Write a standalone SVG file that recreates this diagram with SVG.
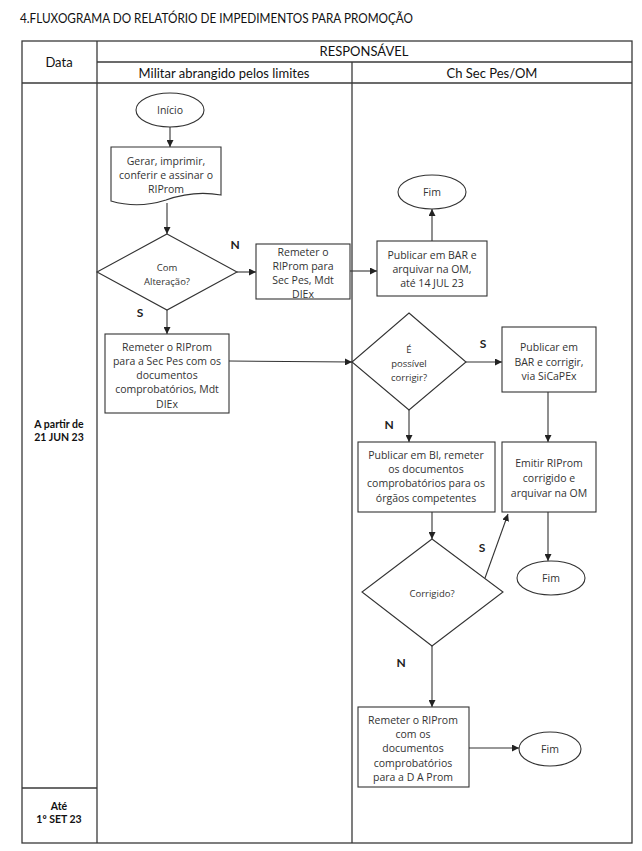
<svg xmlns="http://www.w3.org/2000/svg" width="642" height="851" viewBox="0 0 642 851">
<defs>
<style>
.tb{fill:none;stroke:#3a3a3a;stroke-width:1.3}
.nd{fill:#fff;stroke:#333;stroke-width:1.1}
.cn{fill:none;stroke:#333;stroke-width:1.1}
.t{font-family:"Open Sans","Liberation Sans",sans-serif;font-size:10.5px;fill:#333;text-anchor:middle;dominant-baseline:central}
.ts{font-family:"Open Sans","Liberation Sans",sans-serif;font-size:9.5px;fill:#333;text-anchor:middle;dominant-baseline:central}
.h{font-family:Lato,"Liberation Sans",sans-serif;font-size:13px;fill:#111;text-anchor:middle;dominant-baseline:central}
.d{font-family:Lato,"Liberation Sans",sans-serif;font-size:10.5px;font-weight:bold;fill:#111;text-anchor:middle;dominant-baseline:central}
.l{font-family:Lato,"Liberation Sans",sans-serif;font-size:12px;font-weight:bold;fill:#222;text-anchor:middle;dominant-baseline:central}
</style>
<marker id="ah" viewBox="0 0 10 10" refX="10" refY="5" markerWidth="7" markerHeight="7" markerUnits="userSpaceOnUse" orient="auto">
<path d="M0,0 L10,5 L0,10 Z" fill="#222"/>
</marker>
</defs>
<rect width="642" height="851" fill="#fff"/>
<text x="20" y="18" font-family="Lato,'Liberation Sans',sans-serif" font-size="13.5" fill="#111" dominant-baseline="central" textLength="393" lengthAdjust="spacingAndGlyphs">4.FLUXOGRAMA DO RELATÓRIO DE IMPEDIMENTOS PARA PROMOÇÃO</text>
<g id="table">
<rect class="tb" x="22" y="41" width="610" height="802"/>
<line class="tb" x1="97" y1="41" x2="97" y2="843"/>
<line class="tb" x1="97" y1="62" x2="632" y2="62"/>
<line class="tb" x1="22" y1="83" x2="632" y2="83"/>
<line class="tb" x1="352" y1="62" x2="352" y2="843"/>
<line class="tb" x1="22" y1="788" x2="97" y2="788"/>
<text class="h" x="59" y="62">Data</text>
<text class="h" x="364" y="51">RESPONSÁVEL</text>
<text class="h" x="224" y="73">Militar abrangido pelos limites</text>
<text class="h" x="492" y="73">Ch Sec Pes/OM</text>
<text class="d" x="59" y="424">A partir de</text>
<text class="d" x="59" y="437">21 JUN 23</text>
<text class="d" x="59" y="806">Até</text>
<text class="d" x="59" y="819">1º SET 23</text>
</g>
<g id="connectors">
<line class="cn" x1="170" y1="127" x2="170" y2="147" marker-end="url(#ah)"/>
<line class="cn" x1="167" y1="203" x2="167" y2="234" marker-end="url(#ah)"/>
<line class="cn" x1="237" y1="272" x2="256" y2="272" marker-end="url(#ah)"/>
<line class="cn" x1="167" y1="310" x2="167" y2="334" marker-end="url(#ah)"/>
<line class="cn" x1="350" y1="271" x2="377" y2="271" marker-end="url(#ah)"/>
<line class="cn" x1="432" y1="241" x2="432" y2="209" marker-end="url(#ah)"/>
<line class="cn" x1="229" y1="361" x2="352" y2="362" marker-end="url(#ah)"/>
<line class="cn" x1="466" y1="362" x2="502" y2="362" marker-end="url(#ah)"/>
<line class="cn" x1="409" y1="410" x2="409" y2="442" marker-end="url(#ah)"/>
<line class="cn" x1="548" y1="392" x2="548" y2="442" marker-end="url(#ah)"/>
<line class="cn" x1="432" y1="512" x2="432" y2="539" marker-end="url(#ah)"/>
<line class="cn" x1="548" y1="512" x2="548" y2="561" marker-end="url(#ah)"/>
<line class="cn" x1="485" y1="578" x2="508" y2="514" marker-end="url(#ah)"/>
<line class="cn" x1="432" y1="646" x2="432" y2="707" marker-end="url(#ah)"/>
<line class="cn" x1="469" y1="748" x2="519" y2="748" marker-end="url(#ah)"/>
<text class="l" x="235" y="244">N</text>
<text class="l" x="140" y="312">S</text>
<text class="l" x="483" y="343">S</text>
<text class="l" x="389" y="424">N</text>
<text class="l" x="482" y="547">S</text>
<text class="l" x="401" y="662">N</text>
</g>
<g id="inicio">
<ellipse class="nd" cx="170" cy="110" rx="34" ry="17"/>
<text class="t" x="170" y="110">Início</text>
</g>
<g id="gerar">
<path class="nd" d="M111,147 H221 V195 Q194,190 166,200 Q138,209 111,201 Z"/>
<text class="t" x="166" y="161">Gerar, imprimir,</text>
<text class="t" x="166" y="175">conferir e assinar o</text>
<text class="t" x="166" y="189">RIProm</text>
</g>
<g id="com-alteracao">
<polygon class="nd" points="167,234 237,272 167,310 97,272"/>
<text class="ts" x="167" y="267">Com</text>
<text class="ts" x="167" y="281">Alteração?</text>
</g>
<g id="remeter-sec-pes">
<rect class="nd" x="256" y="244" width="94" height="55"/>
<text class="t" x="303" y="252">Remeter o</text>
<text class="t" x="303" y="266">RIProm para</text>
<text class="t" x="303" y="280">Sec Pes, Mdt</text>
<text class="t" x="303" y="294">DIEx</text>
</g>
<g id="remeter-docs">
<rect class="nd" x="105" y="334" width="124" height="79"/>
<text class="t" x="167" y="347">Remeter o RIProm</text>
<text class="t" x="167" y="361">para a Sec Pes com os</text>
<text class="t" x="167" y="375">documentos</text>
<text class="t" x="167" y="389">comprobatórios, Mdt</text>
<text class="t" x="167" y="404">DIEx</text>
</g>
<g id="fim1">
<ellipse class="nd" cx="432" cy="192" rx="34" ry="17"/>
<text class="t" x="432" y="192">Fim</text>
</g>
<g id="publicar-bar-arquivar">
<rect class="nd" x="377" y="241" width="110" height="55"/>
<text class="t" x="432" y="255">Publicar em BAR e</text>
<text class="t" x="432" y="269">arquivar na OM,</text>
<text class="t" x="432" y="283">até 14 JUL 23</text>
</g>
<g id="possivel-corrigir">
<polygon class="nd" points="409,313 466,362 409,410 352,362"/>
<text class="ts" x="409" y="349">É</text>
<text class="ts" x="409" y="363">possível</text>
<text class="ts" x="409" y="377">corrigir?</text>
</g>
<g id="publicar-bar-corrigir">
<rect class="nd" x="502" y="327" width="94" height="65"/>
<text class="t" x="549" y="347">Publicar em</text>
<text class="t" x="549" y="362">BAR e corrigir,</text>
<text class="t" x="549" y="376">via SiCaPEx</text>
</g>
<g id="publicar-bi">
<rect class="nd" x="358" y="442" width="137" height="70"/>
<text class="t" x="426" y="455">Publicar em BI, remeter</text>
<text class="t" x="426" y="469">os documentos</text>
<text class="t" x="426" y="483">comprobatórios para os</text>
<text class="t" x="426" y="498">órgãos competentes</text>
</g>
<g id="emitir">
<rect class="nd" x="502" y="442" width="94" height="70"/>
<text class="t" x="549" y="463">Emitir RIProm</text>
<text class="t" x="549" y="478">corrigido e</text>
<text class="t" x="549" y="493">arquivar na OM</text>
</g>
<g id="corrigido">
<polygon class="nd" points="432,539 503,592 432,646 362,592"/>
<text class="ts" x="432" y="593">Corrigido?</text>
</g>
<g id="fim2">
<ellipse class="nd" cx="551" cy="578" rx="34" ry="17"/>
<text class="t" x="551" y="578">Fim</text>
</g>
<g id="remeter-daprom">
<rect class="nd" x="358" y="707" width="111" height="80"/>
<text class="t" x="413" y="720">Remeter o RIProm</text>
<text class="t" x="413" y="734">com os</text>
<text class="t" x="413" y="748">documentos</text>
<text class="t" x="413" y="763">comprobatórios</text>
<text class="t" x="413" y="777">para a D A Prom</text>
</g>
<g id="fim3">
<ellipse class="nd" cx="550" cy="749" rx="31" ry="17"/>
<text class="t" x="550" y="749">Fim</text>
</g>
</svg>
